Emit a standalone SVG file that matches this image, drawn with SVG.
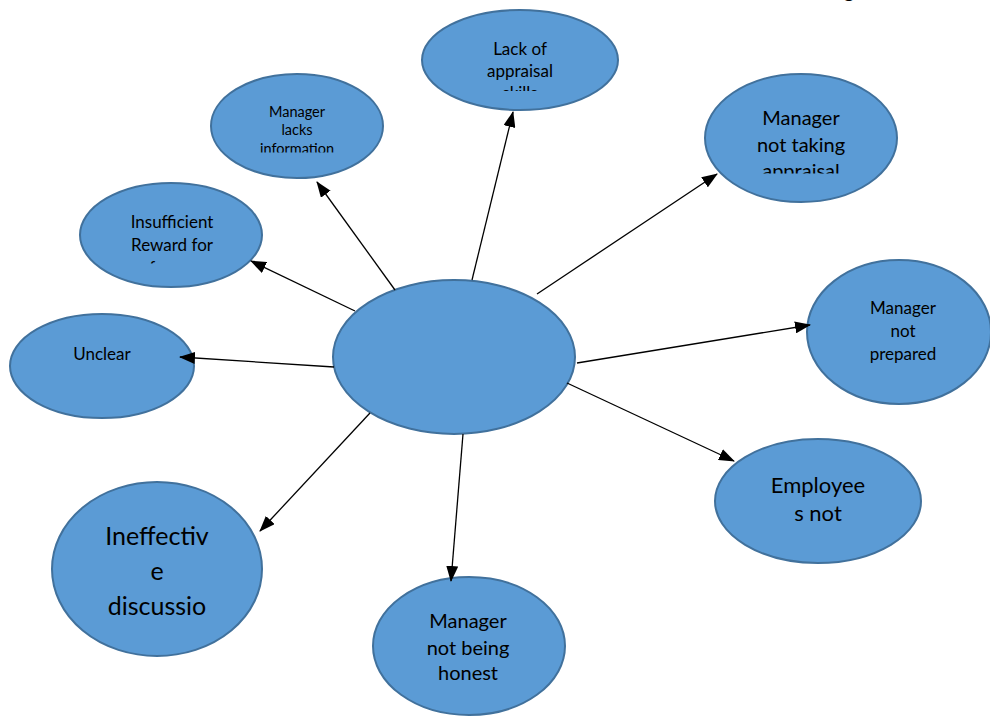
<svg xmlns="http://www.w3.org/2000/svg" width="990" height="717" viewBox="0 0 990 717">
<style>
.n{fill:#5B9BD5;stroke:#41719C;stroke-width:2}
.t{font-family:Lato,"Liberation Sans",sans-serif;fill:#000;text-anchor:middle}
.c line{stroke:#000;stroke-width:1.3;marker-end:url(#ah)}
</style>
<defs>
<marker id="ah" markerUnits="userSpaceOnUse" markerWidth="16" markerHeight="12" refX="15" refY="6" orient="auto">
<path d="M0,0 L16,6 L0,12 Z" fill="#000"/>
</marker>
<clipPath id="c1"><rect x="420" y="0" width="200" height="91"/></clipPath>
<clipPath id="c2"><rect x="200" y="70" width="200" height="82.5"/></clipPath>
<clipPath id="c3"><rect x="700" y="70" width="200" height="103.5"/></clipPath>
<clipPath id="c4"><rect x="70" y="180" width="200" height="83.5"/></clipPath>
</defs>
<rect width="990" height="717" fill="#fff"/>
<text class="t" x="849" y="-2" font-size="20">g</text>
<g id="center"><ellipse class="n" cx="454" cy="357" rx="121" ry="77"/></g>
<g id="lack-appraisal"><ellipse class="n" cx="520" cy="60" rx="98" ry="50"/>
<g clip-path="url(#c1)"><text class="t" font-size="17"><tspan x="520" y="55">Lack of</tspan><tspan x="520" y="77">appraisal</tspan><tspan x="520" y="99">skills</tspan></text></g></g>
<g id="lacks-info"><ellipse class="n" cx="297" cy="126" rx="86" ry="52"/>
<g clip-path="url(#c2)"><text class="t" font-size="14.5"><tspan x="297" y="117">Manager</tspan><tspan x="297" y="135">lacks</tspan><tspan x="297" y="154">information</tspan></text></g></g>
<g id="not-taking"><ellipse class="n" cx="801" cy="138" rx="96" ry="64"/>
<g clip-path="url(#c3)"><text class="t" font-size="20"><tspan x="801" y="125">Manager</tspan><tspan x="801" y="152">not taking</tspan><tspan x="801" y="178">appraisal</tspan></text></g></g>
<g id="insufficient"><ellipse class="n" cx="171" cy="235" rx="91" ry="52"/>
<g clip-path="url(#c4)"><text class="t" font-size="17"><tspan x="172" y="228">Insufficient</tspan><tspan x="172" y="251">Reward for</tspan><tspan x="172" y="274">performance</tspan></text></g></g>
<g id="unclear"><ellipse class="n" cx="102" cy="366" rx="92" ry="52"/>
<text class="t" font-size="17" x="102" y="360">Unclear</text></g>
<g id="not-prepared"><ellipse class="n" cx="899" cy="332" rx="92" ry="72"/>
<text class="t" font-size="17"><tspan x="903" y="314">Manager</tspan><tspan x="903" y="337">not</tspan><tspan x="903" y="360">prepared</tspan></text></g>
<g id="employees"><ellipse class="n" cx="818" cy="501" rx="103" ry="62"/>
<text class="t" font-size="22"><tspan x="818" y="493">Employee</tspan><tspan x="818" y="521">s not</tspan></text></g>
<g id="honest"><ellipse class="n" cx="469" cy="646" rx="96" ry="69"/>
<text class="t" font-size="20"><tspan x="468" y="628">Manager</tspan><tspan x="468" y="655">not being</tspan><tspan x="468" y="680">honest</tspan></text></g>
<g id="ineffective"><ellipse class="n" cx="157" cy="569" rx="105" ry="87"/>
<text class="t" font-size="25"><tspan x="157" y="545">Ineffectiv</tspan><tspan x="157" y="580">e</tspan><tspan x="157" y="615">discussio</tspan></text></g>
<g class="c">
<line x1="472" y1="280" x2="513" y2="112"/>
<line x1="395" y1="290" x2="317" y2="182"/>
<line x1="355" y1="311" x2="251" y2="261"/>
<line x1="334" y1="367" x2="180" y2="357"/>
<line x1="370" y1="413" x2="260" y2="531"/>
<line x1="463" y1="434" x2="451" y2="581"/>
<line x1="567" y1="383" x2="734" y2="461"/>
<line x1="577" y1="363" x2="810" y2="325"/>
<line x1="537" y1="294" x2="717" y2="174"/>
</g>
</svg>
